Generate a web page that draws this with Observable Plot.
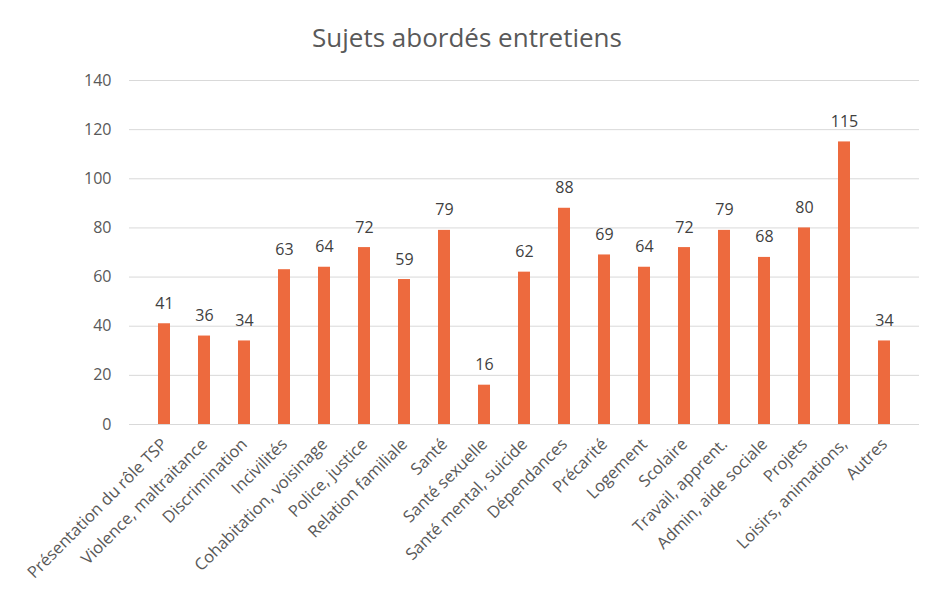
<!DOCTYPE html>
<html><head><meta charset="utf-8">
<script src="https://cdn.jsdelivr.net/npm/d3@7"></script>
<script src="https://cdn.jsdelivr.net/npm/@observablehq/plot@0.6"></script>
<style>
body{margin:0;background:#fff;font-family:"Open Sans",sans-serif;}
#title{height:60px;line-height:74px;text-align:center;font-size:26px;color:#595959;width:934px;}
#chart svg text{font-size:16px;}
#chart svg g[aria-label="x-axis tick label"] text{font-size:16.5px;}
</style></head>
<body>
<div id="title">Sujets abordés entretiens</div>
<div id="chart"></div>
<script>
const categories = ["Présentation du rôle TSP","Violence, maltraitance","Discrimination","Incivilités","Cohabitation, voisinage","Police, justice","Relation familiale","Santé","Santé sexuelle","Santé mental, suicide","Dépendances","Précarité","Logement","Scolaire","Travail, apprent.","Admin, aide sociale","Projets","Loisirs, animations,","Autres"];
const values = [41,36,34,63,64,72,59,79,16,62,88,69,64,72,79,68,80,115,34];
const yTicks = [0,20,40,60,80,100,120,140];
const data = categories.map((c,i)=>({cat:c, val:values[i]}));
const chart = Plot.plot({
  width: 928, height: 535,
  marginLeft: 129, marginRight: 9, marginTop: 20, marginBottom: 171,
  style: {fontFamily: '"Open Sans", sans-serif', fontSize: "16px", color: "#595959", background: "#fff"},
  x: {domain: categories, padding: 0.70, label: null},
  y: {domain: [0,140], ticks: yTicks, label: null},
  marks: [
    Plot.gridY(yTicks, {stroke: "#d9d9d9", strokeOpacity: 1, strokeWidth: 1}),
    Plot.barY(data, {x: "cat", y: "val", fill: "#ED6A3E"}),
    Plot.text(data, {x: "cat", y: "val", text: d => String(d.val), lineAnchor: "bottom", dy: -15, fill: "#404040", fontSize: 16}),
    Plot.axisY(yTicks, {tickSize: 0, tickPadding: 18, fill: "#595959", fontSize: 16}),
    Plot.axisX({tickSize: 0, tickRotate: -45, tickPadding: 17, fill: "#595959", fontSize: 16})
  ]
});
document.getElementById("chart").appendChild(chart);
</script>
</body></html>
